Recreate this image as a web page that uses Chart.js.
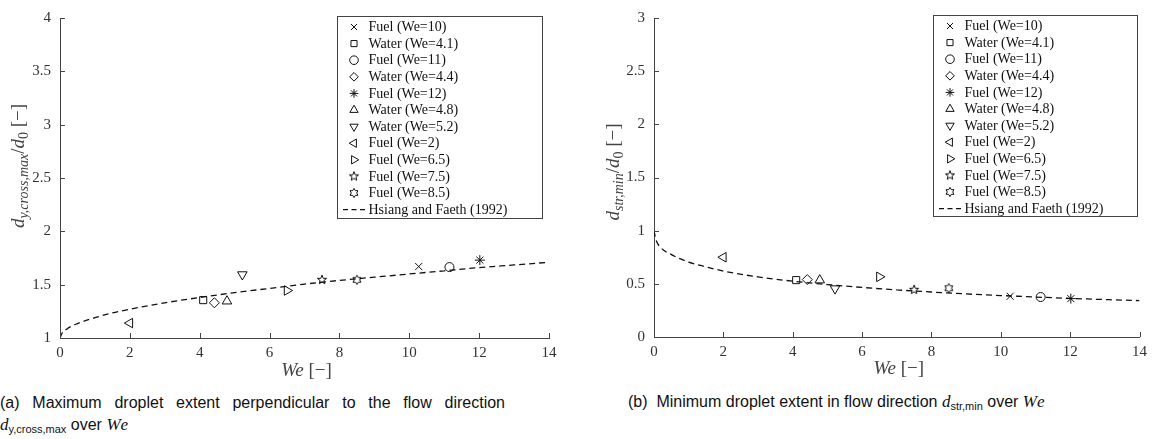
<!DOCTYPE html>
<html>
<head>
<meta charset="utf-8">
<title>Droplet extent over We</title>
<script src="https://cdn.jsdelivr.net/npm/chart.js@4.4.1/dist/chart.umd.min.js"></script>
<style>
  body { margin: 0; background: #fff; width: 1153px; height: 439px; position: relative; overflow: hidden; }
  canvas { position: absolute; top: 0; }
  #plotA { left: 0; }
  #plotB { left: 576px; }
  .cap { position: absolute; font-family: "Liberation Sans", Arial, sans-serif; font-size: 16px; line-height: 22px; color: #111; white-space: nowrap; }
  .cap .m { font-family: "Liberation Serif", serif; font-style: italic; font-size: 17px; }
  .cap .we { letter-spacing: 1.5px; }
  .cap sub { font-size: 11px; vertical-align: -3px; line-height: 0; }
</style>
</head>
<body>
<canvas id="plotA" width="576" height="385"></canvas>
<canvas id="plotB" width="577" height="385"></canvas>

<div class="cap" style="left:0; top:392px; width:505px; text-align:justify; text-align-last:justify; white-space:normal;">(a) Maximum droplet extent perpendicular to the flow direction</div>
<div class="cap" style="left:0; top:414px;"><span class="m">d</span><sub>y,cross,max</sub> over <span class="m we">We</span></div>
<div class="cap" style="left:628px; top:391px;">(b)&nbsp; Minimum droplet extent in flow direction <span class="m">d</span><sub>str,min</sub> over <span class="m we">We</span></div>

<script>
// measured droplets
const seriesLabels = ["Fuel (We=10)", "Water (We=4.1)", "Fuel (We=11)", "Water (We=4.4)", "Fuel (We=12)",
  "Water (We=4.8)", "Water (We=5.2)", "Fuel (We=2)", "Fuel (We=6.5)", "Fuel (We=7.5)", "Fuel (We=8.5)"];
const weMeasured = [10.27, 4.1, 11.15, 4.42, 12.02, 4.78, 5.22, 2.0, 6.5, 7.5, 8.5];
const dCrossMax = [1.67, 1.355, 1.665, 1.33, 1.73, 1.345, 1.595, 1.14, 1.445, 1.545, 1.545];
const dStrMin = [0.383, 0.535, 0.376, 0.54, 0.361, 0.535, 0.455, 0.75, 0.566, 0.444, 0.459];

// correlation curve
const modelLabel = "Hsiang and Faeth (1992)";
const modelWe = [0, 0.05, 0.2, 0.5, 1, 1.5, 2, 3, 4, 5, 6, 7, 8, 9, 10, 11, 12, 13, 14];
const modelCrossMax = [1.0, 1.04, 1.085, 1.135, 1.19, 1.235, 1.27, 1.33, 1.38, 1.425, 1.465, 1.505, 1.54, 1.57, 1.60, 1.63, 1.66, 1.685, 1.71];
const modelStrMin = [1.0, 0.92, 0.84, 0.775, 0.705, 0.66, 0.62, 0.565, 0.525, 0.493, 0.466, 0.443, 0.423, 0.405, 0.39, 0.376, 0.363, 0.352, 0.342];

// axis ticks
const weTicks = [0, 2, 4, 6, 8, 10, 12, 14];
const crossTicks = [1, 1.5, 2, 2.5, 3, 3.5, 4];
const strTicks = [0, 0.5, 1, 1.5, 2, 2.5, 3];

const ink = "#111";
const axisColor = "#444";
const serif = '"Liberation Serif", "DejaVu Serif", serif';
Chart.defaults.font.family = serif;

function starCanvas(points, outer, inner) {
  const c = document.createElement("canvas");
  c.width = 14; c.height = 14;
  const g = c.getContext("2d");
  g.strokeStyle = ink;
  g.lineWidth = 1;
  g.beginPath();
  for (let i = 0; i < points * 2; i++) {
    const r = i % 2 === 0 ? outer : inner;
    const a = -Math.PI / 2 + i * Math.PI / points;
    const px = 7 + r * Math.cos(a), py = 7 + r * Math.sin(a);
    if (i === 0) g.moveTo(px, py); else g.lineTo(px, py);
  }
  g.closePath();
  g.stroke();
  return c;
}

const pentagram = starCanvas(5, 4.8, 2.0);
const hexagram = starCanvas(6, 4.6, 2.7);

const markers = [
  { style: "crossRot" }, { style: "rect" }, { style: "circle" }, { style: "rectRot" }, { style: "star" },
  { style: "triangle", rot: 0 }, { style: "triangle", rot: 180 }, { style: "triangle", rot: 270 },
  { style: "triangle", rot: 90 }, { style: pentagram }, { style: hexagram }
];

function buildDatasets(yValues, modelValues) {
  const sets = seriesLabels.map((label, i) => ({
    label,
    data: [{ x: weMeasured[i], y: yValues[i] }],
    pointStyle: markers[i].style,
    pointRotation: markers[i].rot || 0,
    pointRadius: markers[i].style === "triangle" ? 5.5 : (markers[i].style === "circle" ? 4.5 : 5),
    pointHoverRadius: 5,
    pointBorderWidth: 1,
    pointBorderColor: ink,
    pointBackgroundColor: "rgba(0,0,0,0)",
    showLine: false
  }));
  sets.push({
    label: modelLabel,
    data: modelWe.map((x, i) => ({ x, y: modelValues[i] })),
    showLine: true,
    borderColor: ink,
    borderWidth: 1.3,
    borderDash: [6, 4],
    pointRadius: 0,
    cubicInterpolationMode: "monotone",
    fill: false
  });
  return sets;
}

function drawPieces(ctx, pieces, cx, cy, vertical) {
  ctx.save();
  ctx.translate(cx, cy);
  if (vertical) ctx.rotate(-Math.PI / 2);
  let total = 0;
  pieces.forEach(p => { ctx.font = p.font; total += ctx.measureText(p.text).width; });
  let x = -total / 2;
  ctx.textAlign = "left";
  ctx.textBaseline = "alphabetic";
  pieces.forEach(p => {
    ctx.font = p.font;
    ctx.fillText(p.text, x, 6 + (p.dy || 0));
    x += ctx.measureText(p.text).width;
  });
  ctx.restore();
}

// inward tick marks, axis titles and framed legend
const decorPlugin = {
  id: "decor",
  afterDraw(chart, args, opts) {
    const ctx = chart.ctx;
    const xs = chart.scales.x, ys = chart.scales.y;
    ctx.save();
    ctx.strokeStyle = axisColor;
    ctx.lineWidth = 1;
    ctx.beginPath();
    xs.ticks.forEach(t => {
      const px = Math.round(xs.getPixelForValue(t.value)) + 0.5;
      ctx.moveTo(px, xs.top);
      ctx.lineTo(px, xs.top - 5);
    });
    ys.ticks.forEach(t => {
      const py = Math.round(ys.getPixelForValue(t.value)) + 0.5;
      ctx.moveTo(ys.right, py);
      ctx.lineTo(ys.right + 5, py);
    });
    ctx.stroke();

    ctx.fillStyle = "#444";
    drawPieces(ctx, opts.xTitle, (chart.chartArea.left + chart.chartArea.right) / 2 + 2, opts.xTitleY, false);
    drawPieces(ctx, opts.yTitle, opts.yTitleX, opts.yTitleY, true);

    const b = opts.box;
    ctx.fillStyle = "#fff";
    ctx.fillRect(b.x, b.y, b.w, b.h);
    ctx.strokeStyle = axisColor;
    ctx.strokeRect(b.x + 0.5, b.y + 0.5, b.w, b.h);
    ctx.font = "14px " + serif;
    ctx.textBaseline = "middle";
    chart.data.datasets.forEach((ds, i) => {
      const y = b.y + 11 + i * 16.6;
      if (ds.showLine) {
        ctx.strokeStyle = ds.borderColor;
        ctx.lineWidth = ds.borderWidth;
        ctx.setLineDash([5, 3.5]);
        ctx.beginPath();
        ctx.moveTo(b.x + 6, y);
        ctx.lineTo(b.x + 31, y);
        ctx.stroke();
        ctx.setLineDash([]);
      } else {
        ctx.strokeStyle = ink;
        ctx.fillStyle = "rgba(0,0,0,0)";
        ctx.lineWidth = 1;
        Chart.helpers.drawPoint(ctx, {
          pointStyle: ds.pointStyle, rotation: ds.pointRotation,
          radius: ds.pointStyle === "triangle" ? 4.8 : 4.3, borderWidth: 1
        }, b.x + 17, y);
      }
      ctx.fillStyle = ink;
      ctx.fillText(ds.label, b.x + 31.5, y + 0.5);
    });
    ctx.restore();
  }
};

const mathFont = "italic 19px " + serif;
const subFont = "italic 14px " + serif;
const romanFont = "19px " + serif;
const subRoman = "14px " + serif;

const weTitle = [
  { text: "We", font: mathFont }, { text: " [\u2212]", font: romanFont }
];

function makeChart(id, yValues, modelValues, yMin, yMax, yTickList, layout) {
  return new Chart(document.getElementById(id), {
    type: "scatter",
    data: { datasets: buildDatasets(yValues, modelValues) },
    plugins: [decorPlugin],
    options: {
      responsive: false,
      animation: false,
      layout: { padding: layout.padding },
      plugins: {
        legend: { display: false },
        tooltip: { enabled: false },
        decor: {
          xTitle: weTitle,
          xTitleY: layout.xTitleY,
          yTitle: layout.yTitle,
          yTitleX: layout.yTitleX,
          yTitleY: layout.yTitleY,
          box: layout.box
        }
      },
      scales: {
        x: {
          type: "linear",
          min: 0, max: 14,
          afterBuildTicks: s => { s.ticks = weTicks.map(v => ({ value: v })); },
          afterFit: s => { s.height = layout.xHeight; },
          grid: { display: false, drawTicks: false },
          border: { display: true, color: axisColor, width: 1 },
          ticks: { font: { family: serif, size: 15 }, color: "#333", padding: 6, maxRotation: 0, callback: v => String(v) }
        },
        y: {
          type: "linear",
          min: yMin, max: yMax,
          afterBuildTicks: s => { s.ticks = yTickList.map(v => ({ value: v })); },
          afterFit: s => { s.width = layout.yWidth; },
          grid: { display: false, drawTicks: false },
          border: { display: true, color: axisColor, width: 1 },
          ticks: { font: { family: serif, size: 15 }, color: "#333", padding: 9, callback: v => String(v) }
        }
      }
    }
  });
}

makeChart("plotA", dCrossMax, modelCrossMax, 1, 4, crossTicks, {
  padding: { top: 10, right: 27, left: 0, bottom: 0 },
  yWidth: 60, xHeight: 47,
  xTitleY: 370,
  yTitleX: 18, yTitleY: 166,
  yTitle: [
    { text: "d", font: mathFont }, { text: "y,cross,max", font: subFont, dy: 4 },
    { text: "/", font: romanFont }, { text: "d", font: mathFont }, { text: "0", font: subRoman, dy: 4 },
    { text: " [\u2212]", font: romanFont }
  ],
  box: { x: 337, y: 16, w: 205, h: 202 }
});

makeChart("plotB", dStrMin, modelStrMin, 0, 3, strTicks, {
  padding: { top: 10, right: 10, left: 0, bottom: 0 },
  yWidth: 78, xHeight: 48,
  xTitleY: 368,
  yTitleX: 37, yTitleY: 172,
  yTitle: [
    { text: "d", font: mathFont }, { text: "str,min", font: subFont, dy: 4 },
    { text: "/", font: romanFont }, { text: "d", font: mathFont }, { text: "0", font: subRoman, dy: 4 },
    { text: " [\u2212]", font: romanFont }
  ],
  box: { x: 357, y: 15, w: 204, h: 201 }
});
</script>
</body>
</html>
